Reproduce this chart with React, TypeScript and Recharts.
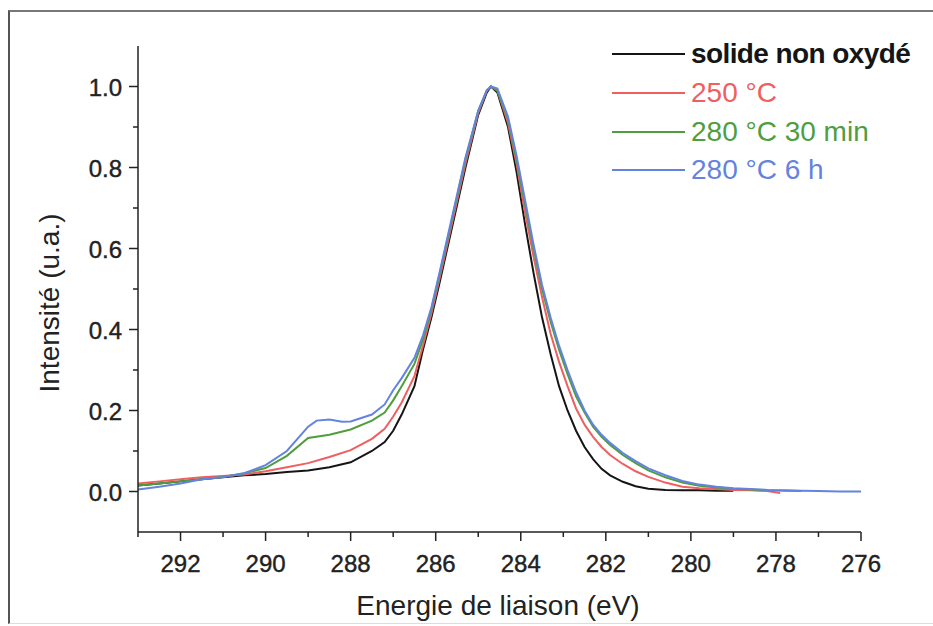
import React from 'react';
import { LineChart, Line, XAxis, YAxis } from 'recharts';

// ---- data ----
const energyLeft = [293, 292.5, 292, 291.5, 291, 290.5, 290, 289.5, 289, 288.5, 288, 287.5, 287.2, 287, 286.8, 286.5, 286.3, 286.1, 285.9, 285.6, 285.3, 285, 284.8, 284.7];
const energyRight = [284.55, 284.3, 284.1, 283.9, 283.7, 283.5, 283.3, 283.1, 282.9, 282.7, 282.5, 282.3, 282.1, 281.9, 281.6, 281.3, 281, 280.6, 280.2, 279.8, 279.4, 279];

const blackEnergy = [...energyLeft, ...energyRight];
const blackValues = [0.015, 0.02, 0.025, 0.03, 0.035, 0.04, 0.043, 0.048, 0.052, 0.06, 0.072, 0.1, 0.122, 0.15, 0.19, 0.26, 0.35, 0.43, 0.52, 0.66, 0.8, 0.93, 0.985, 1.0,
  0.985, 0.9, 0.79, 0.66, 0.54, 0.43, 0.34, 0.26, 0.2, 0.15, 0.11, 0.08, 0.056, 0.04, 0.024, 0.013, 0.007, 0.004, 0.003, 0.003, 0.002, 0.002];

const redEnergy = [...energyLeft, ...energyRight, 278.6, 278.2, 277.9];
const redValues = [0.02, 0.025, 0.03, 0.035, 0.038, 0.042, 0.05, 0.06, 0.07, 0.085, 0.102, 0.13, 0.155, 0.185, 0.22, 0.285, 0.36, 0.44, 0.53, 0.67, 0.81, 0.935, 0.99, 1.0,
  0.99, 0.91, 0.81, 0.69, 0.58, 0.48, 0.39, 0.32, 0.26, 0.205, 0.165, 0.135, 0.11, 0.09, 0.068, 0.05, 0.036, 0.022, 0.012, 0.008, 0.006, 0.004, 0.003, 0.001, -0.004];

const greenEnergy = [...energyLeft, ...energyRight, 278.6, 278.2, 277.8, 277.4];
const greenValues = [0.015, 0.02, 0.025, 0.03, 0.036, 0.045, 0.058, 0.088, 0.132, 0.14, 0.153, 0.175, 0.195, 0.225, 0.26, 0.315, 0.375, 0.45, 0.54, 0.68, 0.82, 0.94, 0.99, 1.0,
  0.99, 0.92, 0.82, 0.71, 0.6, 0.5, 0.42, 0.35, 0.29, 0.235, 0.195, 0.16, 0.135, 0.115, 0.09, 0.07, 0.052, 0.035, 0.022, 0.014, 0.01, 0.007, 0.005, 0.003, 0.002, 0.001];

const blueEnergy = [293, 292.5, 292, 291.5, 291, 290.5, 290, 289.5, 289, 288.8, 288.5, 288.2, 288, 287.5, 287.2, 287, 286.8, 286.5, 286.3, 286.1, 285.9, 285.6, 285.3, 285, 284.8, 284.7,
  ...energyRight, 278.6, 278.2, 277.8, 277.4, 277, 276.5, 276];
const blueValues = [0.005, 0.012, 0.02, 0.03, 0.036, 0.045, 0.065, 0.1, 0.16, 0.175, 0.178, 0.172, 0.173, 0.19, 0.215, 0.25, 0.28, 0.33, 0.385, 0.455, 0.545, 0.685, 0.825, 0.94, 0.99, 1.0,
  0.995, 0.925, 0.83, 0.72, 0.61, 0.51, 0.43, 0.36, 0.3, 0.245, 0.2, 0.165, 0.14, 0.12, 0.095, 0.075, 0.057, 0.04, 0.026, 0.017, 0.012, 0.008, 0.006, 0.004, 0.003, 0.002, 0.001, 0.0, 0.0];

const xTicks = [293, 292, 291, 290, 289, 288, 287, 286, 285, 284, 283, 282, 281, 280, 279, 278, 277, 276];
const yTicks = [0, 0.1, 0.2, 0.3, 0.4, 0.5, 0.6, 0.7, 0.8, 0.9, 1.0];

const seriesNames = ['solide non oxydé', '250 °C', '280 °C 30 min', '280 °C 6 h'];
const seriesColors = ['#151515', '#ef5f5f', '#4e9e3e', '#6483e0'];

const build = (e: number[], v: number[]) => e.map((x, i) => ({ x, y: v[i] }));
const seriesData = [
  build(blackEnergy, blackValues),
  build(redEnergy, redValues),
  build(greenEnergy, greenValues),
  build(blueEnergy, blueValues),
];

const FONT = '"Liberation Sans", Arial, sans-serif';
const AXIS = '#222';

const XTick = (props: any) => {
  const { x, y, payload } = props;
  const v = payload.value;
  const major = v % 2 === 0;
  return (
    <g>
      <line x1={x} x2={x} y1={y} y2={y + (major ? 9 : 5)} stroke={AXIS} strokeWidth={1.5} />
      {major && (
        <text x={x} y={y + 40} textAnchor="middle" fontSize={24} fontFamily={FONT} fill="#222" stroke="#222" strokeWidth={0.4}>{v}</text>
      )}
    </g>
  );
};

const YTick = (props: any) => {
  const { x, y, payload } = props;
  const v = payload.value;
  const major = Math.round(v * 10) % 2 === 0;
  return (
    <g>
      <line x1={x} x2={x - (major ? 9 : 5)} y1={y} y2={y} stroke={AXIS} strokeWidth={1.5} />
      {major && (
        <text x={x - 16} y={y + 9} textAnchor="end" fontSize={24} fontFamily={FONT} fill="#222" stroke="#222" strokeWidth={0.4}>{v.toFixed(1)}</text>
      )}
    </g>
  );
};

export default function App() {
  return (
    <div style={{ position: 'absolute', left: 0, top: 0, width: 933, height: 626, background: '#fff', fontFamily: FONT, overflow: 'hidden' }}>
      <div style={{ position: 'absolute', left: 8, top: 10, width: 925, height: 614, borderLeft: '2px solid #555', borderTop: '2px solid #777', borderBottom: '1px solid #ddd', boxSizing: 'border-box' }} />
      <div style={{ position: 'absolute', left: 0, top: 0 }}>
        <LineChart width={933} height={626} margin={{ top: 46, left: 78, right: 72, bottom: 54 }}>
          <XAxis
            type="number"
            dataKey="x"
            domain={[276, 293]}
            reversed
            ticks={xTicks}
            interval={0}
            height={40}
            tickSize={0}
            tickMargin={0}
            tickLine={false}
            tick={<XTick />}
            axisLine={{ stroke: AXIS, strokeWidth: 1.5 }}
            allowDataOverflow
          />
          <YAxis
            type="number"
            domain={[-0.1, 1.1]}
            ticks={yTicks}
            interval={0}
            width={60}
            tickSize={0}
            tickMargin={0}
            tickLine={false}
            tick={<YTick />}
            axisLine={{ stroke: AXIS, strokeWidth: 1.5 }}
            allowDataOverflow
          />
          {seriesData.map((d, i) => (
            <Line
              key={seriesNames[i]}
              data={d}
              dataKey="y"
              type="linear"
              stroke={seriesColors[i]}
              strokeWidth={2}
              dot={false}
              isAnimationActive={false}
            />
          ))}
        </LineChart>
      </div>
      {seriesNames.map((n, i) => (
        <div key={n} style={{ position: 'absolute', left: 612, top: 54 + i * 38.8 - 16, height: 32, display: 'flex', alignItems: 'center', whiteSpace: 'nowrap' }}>
          <div style={{ width: 73, height: 2, background: seriesColors[i], marginRight: 6 }} />
          <span style={{ fontSize: 28, color: seriesColors[i], fontWeight: i === 0 ? 'bold' : 'normal', letterSpacing: i === 0 ? -0.6 : 0 }}>{n}</span>
        </div>
      ))}
      <div style={{ position: 'absolute', left: 498, top: 606, transform: 'translate(-50%, -50%)', fontSize: 28, color: '#222', whiteSpace: 'nowrap' }}>
        Energie de liaison (eV)
      </div>
      <div style={{ position: 'absolute', left: 50, top: 303, transform: 'translate(-50%, -50%) rotate(-90deg)', fontSize: 28, color: '#222', whiteSpace: 'nowrap' }}>
        Intensité (u.a.)
      </div>
    </div>
  );
}
